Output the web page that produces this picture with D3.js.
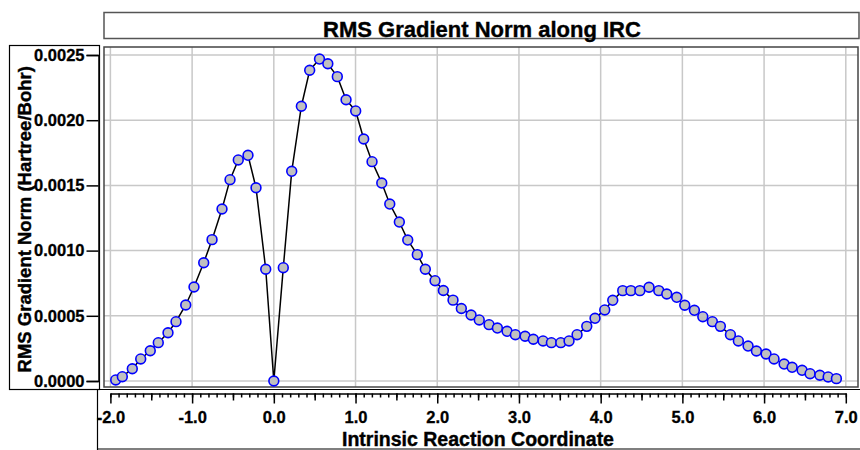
<!DOCTYPE html>
<html>
<head>
<meta charset="utf-8">
<script src="https://cdn.jsdelivr.net/npm/d3@7"></script>
<style>
  body { margin: 0; background: #fff; }
  svg { display: block; font-family: "Liberation Sans", Arial, Helvetica, sans-serif; }
</style>
</head>
<body>
<svg id="chart" width="860" height="450"></svg>
<script>
// IRC coordinate (x) and RMS gradient norm (y)
const ircCoord = [
  -1.935, -1.854, -1.732, -1.629, -1.512, -1.414, -1.295, -1.197, -1.078, -0.977,
  -0.858, -0.756, -0.634, -0.536, -0.435, -0.316, -0.218, -0.099, 0.0, 0.116,
  0.219, 0.337, 0.439, 0.559, 0.661, 0.777, 0.884, 1.002, 1.100, 1.202,
  1.321, 1.419, 1.536, 1.639, 1.756, 1.854, 1.973, 2.075, 2.193, 2.295,
  2.414, 2.514, 2.634, 2.736, 2.854, 2.956, 3.075, 3.176, 3.295, 3.397,
  3.512, 3.613, 3.711, 3.830, 3.931, 4.050, 4.148, 4.270, 4.370, 4.480,
  4.592, 4.711, 4.809, 4.931, 5.029, 5.147, 5.250, 5.367, 5.465, 5.588,
  5.685, 5.804, 5.906, 6.024, 6.122, 6.245, 6.343, 6.465, 6.563, 6.682,
  6.784, 6.885
]
const gradNorm = [
  0.000008, 0.000033, 0.000094, 0.000169, 0.000232, 0.000294, 0.000370, 0.000455, 0.000583, 0.000721,
  0.000907, 0.001084, 0.001319, 0.001544, 0.001695, 0.001731, 0.001482, 0.000857, 0.0, 0.000869,
  0.001608, 0.002107, 0.002383, 0.002469, 0.002433, 0.002334, 0.002157, 0.002071, 0.001856, 0.001682,
  0.001518, 0.001357, 0.001219, 0.001081, 0.000969, 0.000857, 0.000769, 0.000694, 0.000620, 0.000556,
  0.000506, 0.000468, 0.000432, 0.000406, 0.000381, 0.000355, 0.000343, 0.000320, 0.000307, 0.000294,
  0.000294, 0.000307, 0.000355, 0.000419, 0.000481, 0.000545, 0.000619, 0.000693, 0.000693, 0.000693,
  0.000719, 0.000693, 0.000667, 0.000642, 0.000581, 0.000542, 0.000493, 0.000455, 0.000419, 0.000355,
  0.000307, 0.000268, 0.000230, 0.000207, 0.000169, 0.000130, 0.000105, 0.000082, 0.000056, 0.000044,
  0.000031, 0.000018
]
const xTicks = [-2, -1, 0, 1, 2, 3, 4, 5, 6, 7]
const yTicks = [0, 0.0005, 0.001, 0.0015, 0.002, 0.0025]
const xMinorTicks = d3.range(-20, 71).map(i => i / 10)
const xMidTicks = d3.range(-15, 70, 10).map(i => i / 10)

const title = 'RMS Gradient Norm along IRC'
const xTitle = 'Intrinsic Reaction Coordinate'
const yTitle = 'RMS Gradient Norm (Hartree/Bohr)'

const svg = d3.select('#chart')
const frame = { left: 104, right: 858, top: 47, bottom: 387 }

const x = d3.scaleLinear().domain([-2, 7]).range([110.4, 845.8])
const y = d3.scaleLinear().domain([0, 0.0025]).range([381, 55])

// title box
svg.append('rect')
  .attr('x', 104).attr('y', 12.5).attr('width', 755).attr('height', 26)
  .attr('fill', 'none').attr('stroke', '#555').attr('stroke-width', 1.5)
svg.append('text')
  .attr('x', 482).attr('y', 36.5)
  .attr('text-anchor', 'middle')
  .attr('font-size', 22).attr('font-weight', 'bold')
  .attr('stroke', '#000').attr('stroke-width', 0.4)
  .text(title)

// grid
const grid = svg.append('g').attr('stroke', '#c8c8c8').attr('stroke-width', 1.5)
grid.selectAll('.gx').data(xTicks).join('line')
  .attr('x1', d => x(d)).attr('x2', d => x(d))
  .attr('y1', frame.top).attr('y2', frame.bottom)
grid.selectAll('.gy').data(yTicks).join('line')
  .attr('x1', frame.left).attr('x2', frame.right)
  .attr('y1', d => y(d)).attr('y2', d => y(d))

// plot frame
svg.append('rect')
  .attr('x', frame.left).attr('y', frame.top)
  .attr('width', frame.right - frame.left).attr('height', frame.bottom - frame.top)
  .attr('fill', 'none').attr('stroke', '#444').attr('stroke-width', 1.5)

// data line + markers
const line = d3.line().x((d, i) => x(ircCoord[i])).y(d => y(d))
svg.append('path')
  .datum(gradNorm)
  .attr('d', line)
  .attr('fill', 'none').attr('stroke', '#000').attr('stroke-width', 1.5)
svg.append('g').selectAll('circle').data(gradNorm).join('circle')
  .attr('cx', (d, i) => x(ircCoord[i]))
  .attr('cy', d => y(d))
  .attr('r', 4.9)
  .attr('fill', '#c0c0c0')
  .attr('stroke', '#0000ff').attr('stroke-width', 1.6)

// y axis panel
svg.append('rect')
  .attr('x', 9.5).attr('y', 45.5).attr('width', 90).attr('height', 344)
  .attr('fill', 'none').attr('stroke', '#000').attr('stroke-width', 1.2)
const yAxis = svg.append('g')
  .attr('transform', 'translate(98.5,0)')
  .call(d3.axisLeft(y).tickValues(yTicks).tickSize(12).tickPadding(2)
    .tickFormat(d => d.toFixed(4)))
yAxis.select('.domain').attr('stroke-width', 1.5)
yAxis.selectAll('.tick line').attr('stroke-width', 1.5)
yAxis.selectAll('text')
  .attr('font-size', 16.5).attr('font-weight', 'bold')
  .attr('stroke', '#000').attr('stroke-width', 0.3)
  .attr('font-family', '"Liberation Sans", Arial, sans-serif').attr('fill', '#000')
svg.append('text')
  .attr('transform', 'translate(31,' + y(0.00124) + ') rotate(-90)')
  .attr('text-anchor', 'middle')
  .attr('font-size', 18.5).attr('font-weight', 'bold')
  .attr('stroke', '#000').attr('stroke-width', 0.4)
  .text(yTitle)

// x axis panel
svg.append('path')
  .attr('d', 'M97.5,450 V389.5 H860 M97.5,449 H860')
  .attr('fill', 'none').attr('stroke', '#000').attr('stroke-width', 1.2)
const xMinor = svg.append('g')
  .attr('transform', 'translate(0,393.5)')
  .call(d3.axisBottom(x).tickValues(xMinorTicks).tickSize(4).tickFormat(''))
xMinor.select('.domain').remove()
xMinor.selectAll('.tick line').attr('stroke-width', 1.5)
const xMid = svg.append('g')
  .attr('transform', 'translate(0,393.5)')
  .call(d3.axisBottom(x).tickValues(xMidTicks).tickSize(7).tickFormat(''))
xMid.select('.domain').remove()
xMid.selectAll('.tick line').attr('stroke-width', 1.5)
const xAxis = svg.append('g')
  .attr('transform', 'translate(0,393.5)')
  .call(d3.axisBottom(x).tickValues(xTicks).tickSize(10).tickSizeOuter(0).tickPadding(8)
    .tickFormat(d => d.toFixed(1)))
xAxis.select('.domain').attr('stroke-width', 1.5)
xAxis.selectAll('.tick line').attr('stroke-width', 1.5)
xAxis.selectAll('text')
  .attr('font-size', 16.5).attr('font-weight', 'bold')
  .attr('stroke', '#000').attr('stroke-width', 0.3)
  .attr('font-family', '"Liberation Sans", Arial, sans-serif').attr('fill', '#000')
svg.append('text')
  .attr('x', 478).attr('y', 446)
  .attr('text-anchor', 'middle')
  .attr('font-size', 19.5).attr('font-weight', 'bold')
  .attr('stroke', '#000').attr('stroke-width', 0.4)
  .text(xTitle)
</script>
</body>
</html>
